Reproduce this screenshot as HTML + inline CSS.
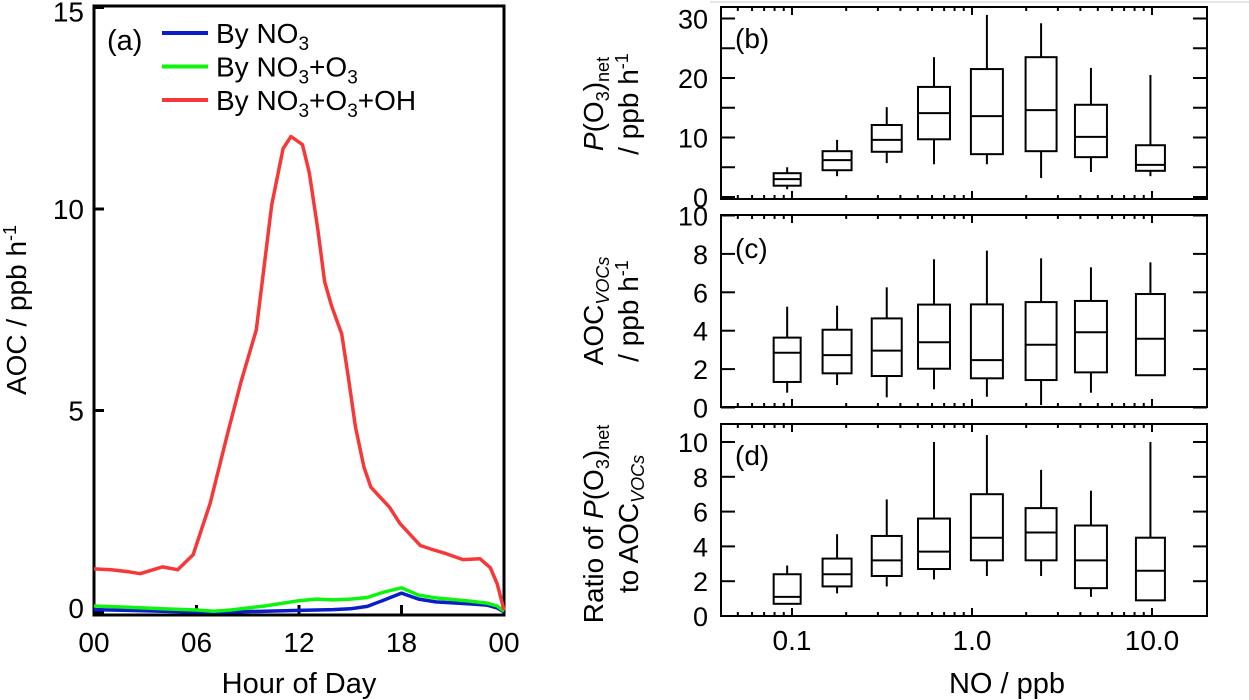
<!DOCTYPE html>
<html><head><meta charset="utf-8"><style>
body{margin:0;background:#fff}
svg{display:block;font-family:"Liberation Sans",Arial,sans-serif}
</style></head><body>
<svg id="fig" width="1249" height="700" viewBox="0 0 1249 700">
<line x1="710" y1="2" x2="1249" y2="2" stroke="#ccc" stroke-width="1"/>
<g id="pa"></g>
<g id="pr"></g>
</svg>
<script>
// ---- panel (a) data ----
const hoursRed=[0,1,2,2.7,4,4.9,5.8,6.8,7.8,8.6,9.5,10.4,11.07,11.53,12.2,12.6,13.1,13.5,13.9,14.5,14.9,15.3,15.8,16.2,17.3,17.9,19.1,19.8,20.6,21.6,22.6,23.2,23.6,24];
const redVals=[1.07,1.05,1.0,0.95,1.12,1.05,1.42,2.7,4.4,5.7,7.0,10.1,11.5,11.8,11.6,10.9,9.5,8.2,7.6,6.9,5.8,4.6,3.6,3.1,2.6,2.2,1.65,1.55,1.45,1.3,1.32,1.1,0.7,0.05];
const hoursLow=[0,2,4,6,7,8,10,12,13,14,15,16,17,18,19,20,22,23,23.6,24];
const greenVals=[0.15,0.12,0.08,0.05,0.02,0.05,0.15,0.28,0.32,0.3,0.32,0.36,0.5,0.6,0.42,0.35,0.27,0.22,0.15,0.02];
const blueVals=[0.06,0.04,0.02,0.0,0.0,0.0,0.02,0.04,0.05,0.06,0.08,0.14,0.3,0.47,0.32,0.25,0.2,0.17,0.1,0.0];
const aXTicks=["00","06","12","18","00"];
const aYTicks=[0,5,10,15];
// ---- box-plot data (b,c,d) ----
const noBins=[0.094,0.178,0.336,0.615,1.21,2.42,4.58,9.8];
const bLow=[1.3,3.5,5.7,5.5,5.5,3.2,4.2,3.5];
const bQ1=[1.9,4.5,7.6,9.7,7.2,7.7,6.7,4.4];
const bMed=[3.0,6.2,9.6,14.1,13.6,14.6,10.1,5.4];
const bQ3=[4.0,7.7,12.1,18.5,21.5,23.5,15.5,8.7];
const bHigh=[5.0,9.6,15.1,23.5,30.6,29.2,21.7,20.5];
const cLow=[0.77,1.17,0.53,0.95,0.56,0.13,0.77,1.68];
const cQ1=[1.33,1.78,1.64,2.02,1.52,1.43,1.83,1.68];
const cMed=[2.85,2.73,2.96,3.4,2.47,3.27,3.92,3.58];
const cQ3=[3.64,4.05,4.64,5.36,5.37,5.49,5.55,5.91];
const cHigh=[5.25,5.3,6.26,7.72,8.17,7.77,7.3,7.56];
const dLow=[0.7,1.3,1.7,2.1,2.3,2.3,1.1,0.9];
const dQ1=[0.7,1.7,2.3,2.7,3.2,3.2,1.6,0.9];
const dMed=[1.1,2.4,3.2,3.7,4.5,4.8,3.2,2.6];
const dQ3=[2.4,3.3,4.6,5.6,7.0,6.2,5.2,4.5];
const dHigh=[2.9,4.7,6.7,10.0,10.4,8.4,7.2,10.0];
const xTickLabels=["0.1","1.0","10.0"];

const NS="http://www.w3.org/2000/svg";
function mk(parent,tag,attrs,text){const e=document.createElementNS(NS,tag);for(const k in attrs)e.setAttribute(k,attrs[k]);if(text!==undefined)e.textContent=text;parent.appendChild(e);return e;}

// ---------- Panel a ----------
const pa=document.getElementById('pa');
const ax=h=>94+h*(504-94)/24, ay=v=>612-v*40.3;
const fa=mk(pa,'rect',{x:94,y:6,width:410,height:609,fill:'none',stroke:'#000','stroke-width':3});


aYTicks.forEach(v=>{
  const t=mk(pa,'line',{x1:94,x2:104,y1:ay(v),y2:ay(v),stroke:'#000','stroke-width':3});
  
  
  const l=mk(pa,'text',{x:84,y:ay(v)+(v==15?14:v==0?6:10),'font-size':28,'text-anchor':'end'},String(v));
  
  
});
aXTicks.forEach((s,i)=>{
  const h=i*6;
  const t=mk(pa,'line',{x1:ax(h),x2:ax(h),y1:615,y2:605,stroke:'#000','stroke-width':3});
  
  
  const l=mk(pa,'text',{x:ax(h),y:652,'font-size':28,'text-anchor':'middle'},s);
  
  
});
function series(hs,vs,col,name){
  const d=hs.map((h,i)=>(i?'L':'M')+ax(h).toFixed(1)+','+ay(vs[i]).toFixed(1)).join('');
  const p=mk(pa,'path',{d:d,fill:'none',stroke:col,'stroke-width':3.5,'stroke-linejoin':'round'});
  
  
}
series(hoursLow,blueVals,'#0a1ec8','line-no3');
series(hoursLow,greenVals,'#0ef40e','line-no3-o3');
series(hoursRed,redVals,'#f83838','line-no3-o3-oh');
let t=mk(pa,'text',{x:107,y:50,'font-size':29},'(a)');


[['#0a1ec8',["By NO",["3"]]],['#0ef40e',["By NO",["3"],"+O",["3"]]],['#f83838',["By NO",["3"],"+O",["3"],"+OH"]]].forEach((e,i)=>{
  const y=33+i*33.5;
  const l=mk(pa,'line',{x1:162,x2:208,y1:y,y2:y,stroke:e[0],'stroke-width':4});
  
  
  const tx=mk(pa,'text',{x:216,y:y+10,'font-size':28});
  
  
  e[1].forEach(p=>{ if(Array.isArray(p)) mk(tx,'tspan',{'font-size':19,dy:7},p[0]); else mk(tx,'tspan',{dy:(tx.childNodes.length?-7:0)},p); });
});
t=mk(pa,'text',{x:0,y:0,'font-size':28,'text-anchor':'middle',transform:'translate(26,310) rotate(-90)'});


mk(t,'tspan',{},'AOC / ppb h');mk(t,'tspan',{'font-size':18,dy:-10},'-1');
t=mk(pa,'text',{x:299,y:693,'font-size':29,'text-anchor':'middle'},'Hour of Day');



// ---------- Panels b,c,d ----------
const pr=document.getElementById('pr');
const lx=v=>972+Math.log10(v)*180;
const L=721,R=1207;
const widths=[27,29,30,32,32,31,32,29];
function panel(name,top,bot,y0,ppu,maxV,labStep,tickStep,lo,q1,md,q3,hi,letter){
  const g=mk(pr,'g',{});
  
  
  const yy=v=>y0-v*ppu;
  const fr=mk(g,'rect',{x:L,y:top,width:R-L,height:bot-top,fill:'none',stroke:'#000','stroke-width':2});
  
  
  for(let dec=-2;dec<=1;dec++)for(let m=1;m<=9;m++){
    const v=m*Math.pow(10,dec),x=lx(v); if(x<L+2||x>R-2)continue;
    const len=m==1?8:4;
    mk(g,'line',{x1:x,x2:x,y1:bot,y2:bot-len,stroke:'#000','stroke-width':2});
    mk(g,'line',{x1:x,x2:x,y1:top,y2:top+len,stroke:'#000','stroke-width':2});
  }
  for(let v=0;v<=maxV+1e-9;v+=tickStep){
    const y=yy(v);
    mk(g,'line',{x1:L,x2:L+14,y1:y,y2:y,stroke:'#000','stroke-width':2});
    mk(g,'line',{x1:R,x2:R-14,y1:y,y2:y,stroke:'#000','stroke-width':2});
    if(Math.abs(v/labStep-Math.round(v/labStep))<1e-6){
      const tl=mk(g,'text',{x:708,y:y+10,'font-size':27,'text-anchor':'end'},String(v));
      
      
    }
  }
  noBins.forEach((b,i)=>{
    const cx=lx(b),w=widths[i];
    const bx=mk(g,'g',{});
    
    
    mk(bx,'line',{x1:cx,x2:cx,y1:yy(hi[i]),y2:yy(q3[i]),stroke:'#000','stroke-width':2});
    mk(bx,'line',{x1:cx,x2:cx,y1:yy(q1[i]),y2:yy(lo[i]),stroke:'#000','stroke-width':2});
    mk(bx,'rect',{x:cx-w/2,y:yy(q3[i]),width:w,height:yy(q1[i])-yy(q3[i]),fill:'none',stroke:'#000','stroke-width':2});
    mk(bx,'line',{x1:cx-w/2,x2:cx+w/2,y1:yy(md[i]),y2:yy(md[i]),stroke:'#000','stroke-width':2});
  });
  const lt=mk(g,'text',{x:735,y:top+(letter=='(c)'?43:41),'font-size':28},letter);
  
  
  return g;
}
panel('panel-b',7,199,197,5.95,30,10,5,bLow,bQ1,bMed,bQ3,bHigh,'(b)');
panel('panel-c',215,407,407.5,19.2,10,2,2,cLow,cQ1,cMed,cQ3,cHigh,'(c)');
panel('panel-d',424,616,616,17.4,10,2,2,dLow,dQ1,dMed,dQ3,dHigh,'(d)');
[1,10,100].forEach((v,i)=>{
  const tl=mk(pr,'text',{x:lx(v/10),y:650,'font-size':28,'text-anchor':'middle'},xTickLabels[i]);
  
  
});
t=mk(pr,'text',{x:1007,y:693,'font-size':29,'text-anchor':'middle'},'NO / ppb');


function ylab(name,cx,cy,parts){
  const tx=mk(pr,'text',{x:0,y:0,'font-size':28,'text-anchor':'middle',transform:`translate(${cx},${cy}) rotate(-90)`});
  
  
  parts.forEach(p=>mk(tx,'tspan',p[1]||{},p[0]));
}
ylab('y-title-b-1',603,104,[['P',{'font-style':'italic'}],['(O'],['3',{'font-size':18,dy:6}],[')',{dy:-6}],['net',{'font-size':18,dy:6}]]);
ylab('y-title-b-2',638,104,[['/ ppb h'],['-1',{'font-size':18,dy:-10}]]);
ylab('y-title-c-1',603,311,[['AOC'],['VOCs',{'font-size':18,dy:6,'font-style':'italic'}]]);
ylab('y-title-c-2',638,311,[['/ ppb h'],['-1',{'font-size':18,dy:-10}]]);
ylab('y-title-d-1',603,524,[['Ratio of '],['P',{'font-style':'italic'}],['(O'],['3',{'font-size':18,dy:6}],[')',{dy:-6}],['net',{'font-size':18,dy:6}]]);
ylab('y-title-d-2',638,524,[['to AOC'],['VOCs',{'font-size':18,dy:6,'font-style':'italic'}]]);
</script>
</body></html>
